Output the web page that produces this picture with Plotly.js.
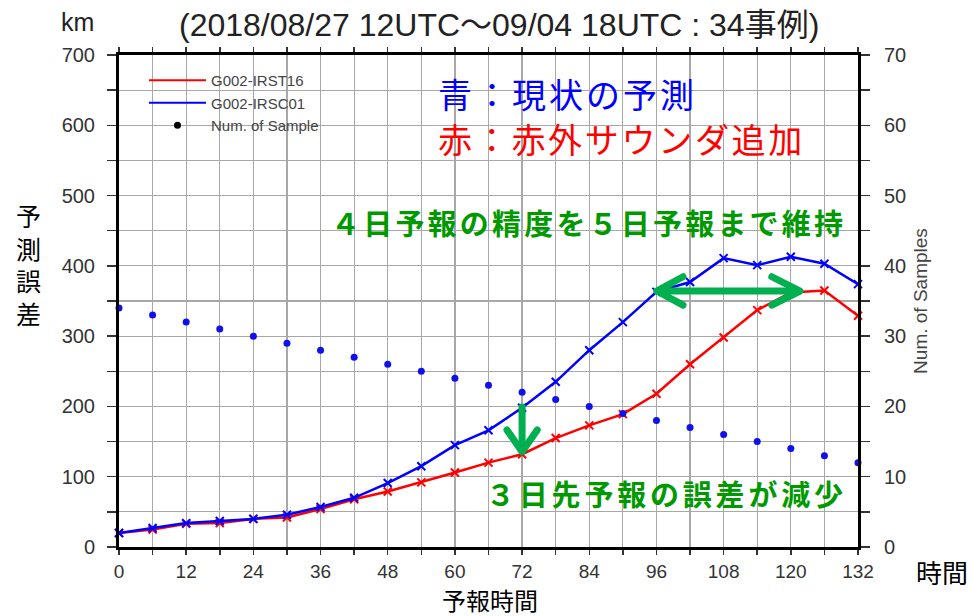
<!DOCTYPE html>
<html>
<head>
<meta charset="utf-8">
<script src="https://cdn.plot.ly/plotly-3.0.1.min.js"></script>
<style>
html,body{margin:0;padding:0;background:#fff;}
#chart{width:972px;height:616px;}
</style>
</head>
<body>
<div id="chart"></div>
<script>
// ---- data ----
const hours = [0,6,12,18,24,30,36,42,48,54,60,66,72,78,84,90,96,102,108,114,120,126,132];
const irst16 = [20,25,33,34,40,42,54,68,79,92,106,120,132,155,173,189,218,260,298,337,362,365,329];
const irsc01 = [20,27,34,37,40,46,57,70,91,115,145,166,198,235,280,320,363,377,411,401,413,403,374];
const samples = [34,33,32,31,30,29,28,27,26,25,24,23,22,21,20,19,18,17,16,15,14,13,12];
const seriesNames = ['G002-IRST16','G002-IRSC01','Num. of Sample'];
const xTickVals = [0,6,12,18,24,30,36,42,48,54,60,66,72,78,84,90,96,102,108,114,120,126,132];
const xTickText = ['0','','12','','24','','36','','48','','60','','72','','84','','96','','108','','120','','132'];
const yTickVals = [0,50,100,150,200,250,300,350,400,450,500,550,600,650,700];
const yTickText = ['0','','100','','200','','300','','400','','500','','600','','700'];
const y2TickVals = [0,5,10,15,20,25,30,35,40,45,50,55,60,65,70];
const y2TickText = ['0','','10','','20','','30','','40','','50','','60','','70'];

// ---- layout helpers (pixel -> paper) ----
const L = 119, R = 858, T = 55, B = 547;
const px = x => (x - L) / (R - L);
const py = y => (B - y) / (B - T);

const narrow = '"Liberation Sans Narrow", "Liberation Sans", Arial, "Noto Sans CJK JP", sans-serif';
const sans = '"Liberation Sans", Arial, Helvetica, sans-serif';
const cjk = '"Noto Sans CJK JP", "Noto Sans", sans-serif';
const GREEN_T = '#009a00';
const GREEN_A = '#00b050';

const traces = [
  {x: hours, y: irst16, type:'scatter', mode:'lines+markers', showlegend:false, cliponaxis:false,
   line:{color:'#ff0000', width:2.5}, marker:{symbol:'x-thin', size:8, color:'#ff0000', line:{color:'#ff0000', width:2}}},
  {x: hours, y: irsc01, type:'scatter', mode:'lines+markers', showlegend:false, cliponaxis:false,
   line:{color:'#0000ff', width:2.5}, marker:{symbol:'x-thin', size:8, color:'#0000ff', line:{color:'#0000ff', width:2}}},
  {x: hours, y: samples, yaxis:'y2', type:'scatter', mode:'markers', showlegend:false, cliponaxis:false,
   marker:{color:'#1010ee', size:7}},
  {x:[null], y:[null], type:'scatter', mode:'lines', name: seriesNames[0], line:{color:'#ff0000', width:2}},
  {x:[null], y:[null], type:'scatter', mode:'lines', name: seriesNames[1], line:{color:'#0000ff', width:2}},
  {x:[null], y:[null], type:'scatter', mode:'markers', name: seriesNames[2], marker:{color:'#000', size:7}}
];

const gridC = '#a8a8a8';
const tf = {family:sans, size:20, color:'#333'};
const layout = {
  width:972, height:616,
  margin:{l:L, r:972-R, t:T, b:616-B, pad:0},
  paper_bgcolor:'#fff', plot_bgcolor:'#fff',
  showlegend:true,
  legend:{x:px(144), y:py(64), xanchor:'left', yanchor:'top', bgcolor:'rgba(0,0,0,0)',
          itemwidth:57, font:{family:sans, size:15, color:'#444'}, tracegroupgap:0},
  xaxis:{range:[0,132], tickmode:'array', tickvals:xTickVals, ticktext:xTickText,
         ticks:'outside', ticklen:5, tickwidth:1.5, tickcolor:'#333',
         showgrid:true, gridcolor:gridC, gridwidth:1.2, zeroline:false,
         showline:true, linecolor:'#000', linewidth:3, mirror:'ticks',
         tickfont:{family:sans, size:19, color:'#333'}, ticklabelstandoff:0, fixedrange:true},
  yaxis:{range:[0,700], tickmode:'array', tickvals:yTickVals, ticktext:yTickText,
         ticks:'outside', ticklen:9, tickwidth:1.5, tickcolor:'#333',
         showgrid:true, gridcolor:gridC, gridwidth:1.2, zeroline:false,
         showline:true, linecolor:'#000', linewidth:3,
         tickfont:tf, ticklabelstandoff:8, fixedrange:true},
  yaxis2:{overlaying:'y', side:'right', range:[0,70], tickmode:'array', tickvals:y2TickVals, ticktext:y2TickText,
          ticks:'outside', ticklen:9, tickwidth:1.5, tickcolor:'#333',
          showgrid:false, zeroline:false, showline:true, linecolor:'#000', linewidth:3,
          tickfont:tf, ticklabelstandoff:10,
          title:{text:'Num. of Samples', font:{family:sans, size:19, color:'#444'}, standoff:9}, fixedrange:true},
  annotations:[
    {xref:'paper', yref:'paper', x:px(77), y:py(22), xanchor:'center', yanchor:'middle', text:'km', showarrow:false, font:{family:narrow, size:25, color:'#222'}},
    {xref:'paper', yref:'paper', x:px(499), y:py(25), xanchor:'center', yanchor:'middle', text:'(2018/08/27 12UTC～09/04 18UTC : 34事例)', showarrow:false, font:{family:narrow, size:32, color:'#222'}},
    {xref:'paper', yref:'paper', x:px(28), y:py(264), xanchor:'center', yanchor:'middle', text:'予<br>測<br>誤<br>差', showarrow:false, font:{family:cjk, size:25, color:'#000'}},
    {xref:'paper', yref:'paper', x:px(490), y:py(599.5), xanchor:'center', yanchor:'middle', borderpad:0, text:'予報時間', showarrow:false, font:{family:cjk, size:24, color:'#000'}},
    {xref:'paper', yref:'paper', x:px(942), y:py(571), xanchor:'center', yanchor:'middle', text:'時間', showarrow:false, font:{family:cjk, size:26, color:'#000'}},
    {xref:'paper', yref:'paper', x:px(436), y:py(93), xanchor:'left', yanchor:'middle', align:'left', text:'青：現状の予測', showarrow:false, font:{family:cjk, size:34, color:'#0000ff'}},
    {xref:'paper', yref:'paper', x:px(436), y:py(138), xanchor:'left', yanchor:'middle', align:'left', text:'赤：赤外サウンダ追加', showarrow:false, font:{family:cjk, size:34, color:'#ff0000'}},
    {xref:'paper', yref:'paper', x:px(329), y:py(222), xanchor:'left', yanchor:'middle', align:'left', text:'４日予報の精度を５日予報まで維持', showarrow:false, font:{family:cjk, size:29, weight:'bold', color:GREEN_T}},
    {xref:'paper', yref:'paper', x:px(484), y:py(493), xanchor:'left', yanchor:'middle', align:'left', text:'３日先予報の誤差が減少', showarrow:false, font:{family:cjk, size:29, weight:'bold', color:GREEN_T}}
  ],
  shapes:[
    // horizontal double arrow
    {type:'line', xref:'x', yref:'y', x0:96.3, x1:121.4, y0:364.2, y1:364.2, line:{color:GREEN_A, width:7}},
    {type:'path', xref:'x', yref:'y', path:'M100.75,384.5 L96.05,364.2 L100.75,344.2', line:{color:GREEN_A, width:7}},
    {type:'path', xref:'x', yref:'y', path:'M116.6,384.5 L121.65,364.2 L116.6,344.2', line:{color:GREEN_A, width:7}},
    // down arrow
    {type:'line', xref:'x', yref:'y', x0:72.0, x1:72.0, y0:199.2, y1:138, line:{color:GREEN_A, width:7}},
    {type:'path', xref:'x', yref:'y', path:'M69.3,166.5 L72.0,135.6 L74.7,166.5', line:{color:GREEN_A, width:7}}
  ]
};

Plotly.newPlot('chart', traces, layout, {displayModeBar:false, staticPlot:true}).then(function(){
  const spacing = {5:'3px', 6:'2.7px', 7:'3.2px', 8:'3.8px'};
  document.querySelectorAll('g.annotation').forEach(function(g){
    const idx = g.getAttribute('data-index');
    if (spacing[idx]) {
      g.querySelectorAll('text').forEach(function(t){ t.style.letterSpacing = spacing[idx]; });
    }
  });
  document.querySelectorAll('.shapelayer path').forEach(function(p){
    p.style.strokeLinecap = 'round'; p.style.strokeLinejoin = 'round';
  });
});
</script>
</body>
</html>
